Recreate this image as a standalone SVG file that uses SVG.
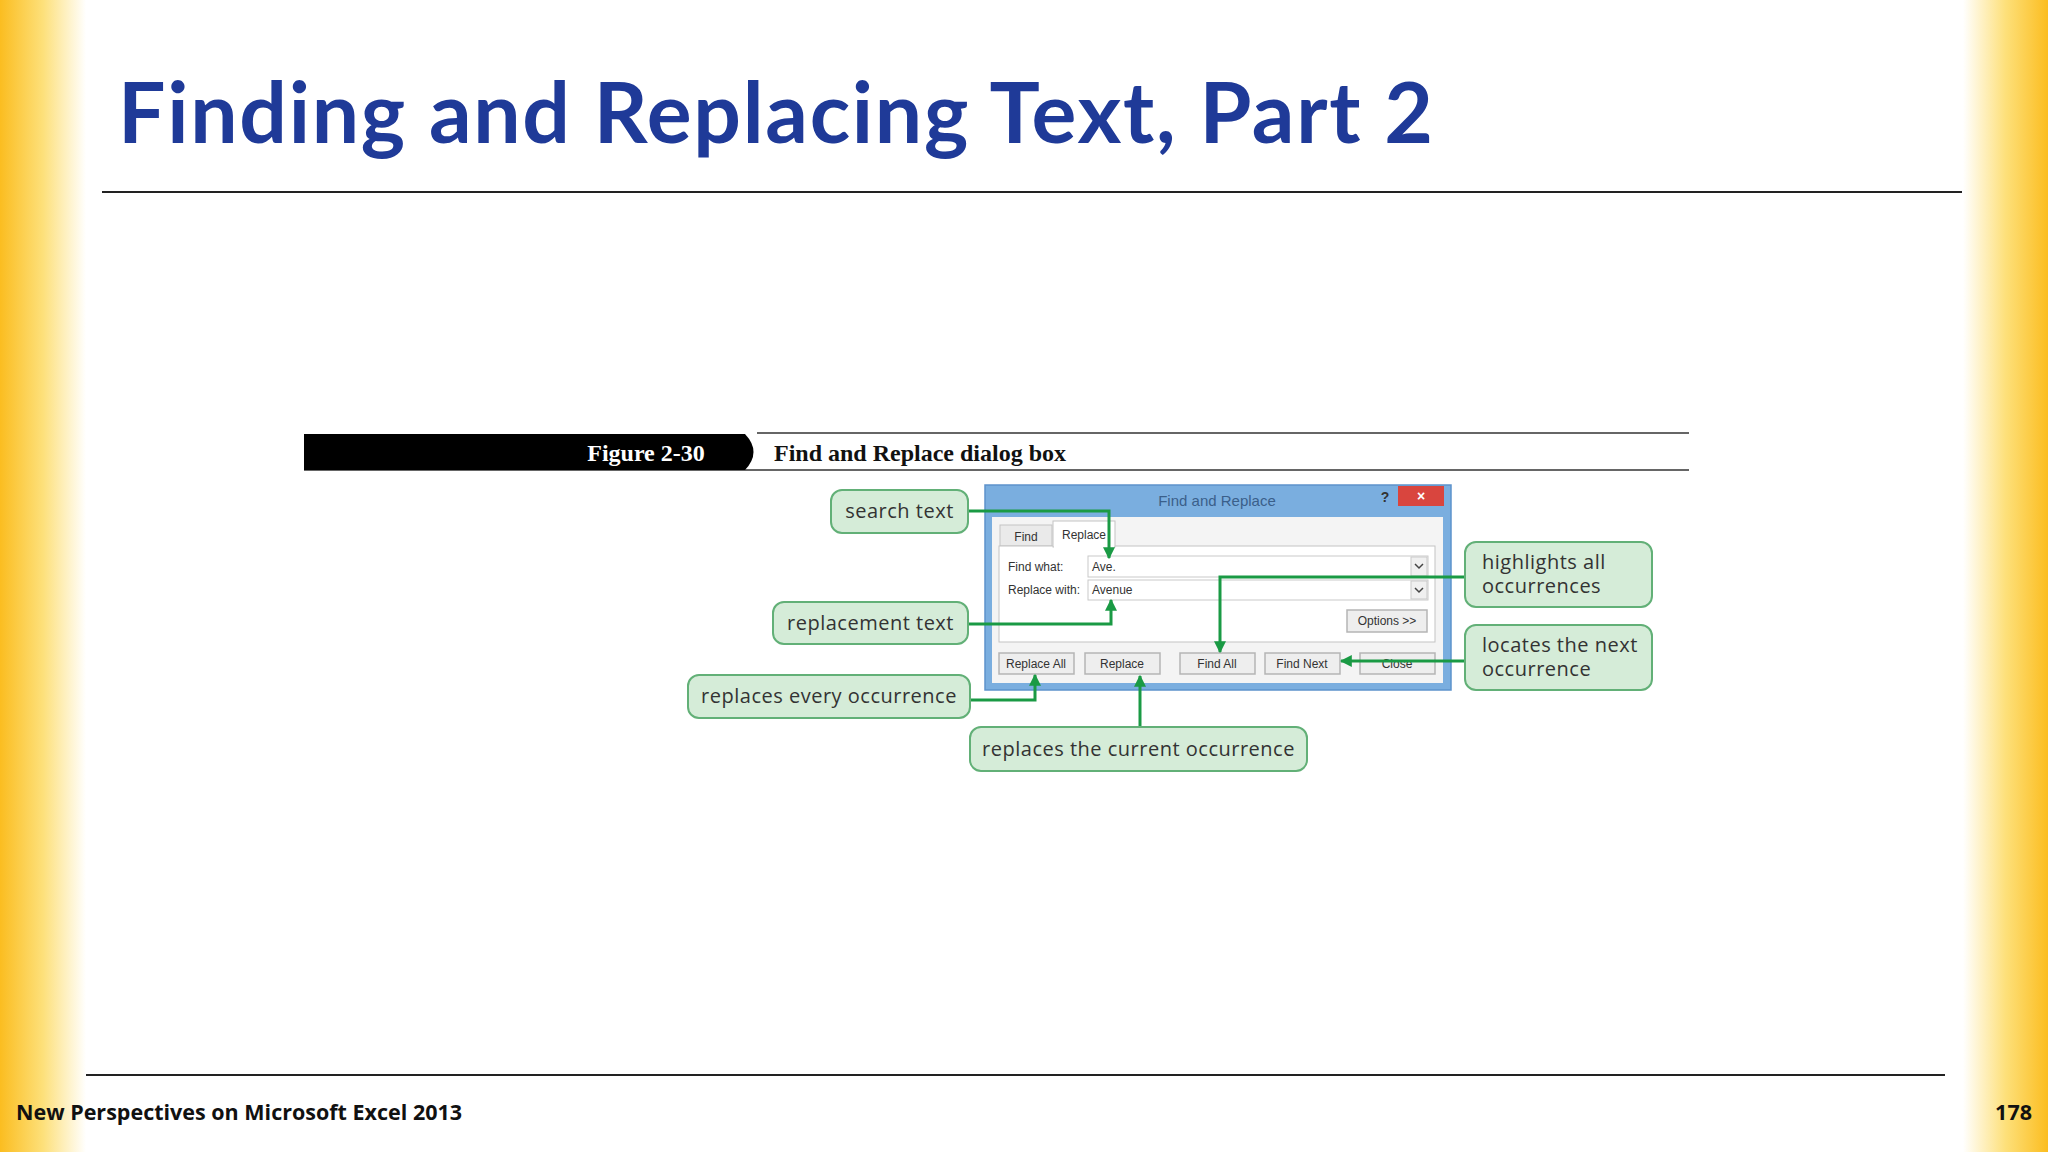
<svg xmlns="http://www.w3.org/2000/svg" width="2048" height="1152" viewBox="0 0 2048 1152">
<defs>
<linearGradient id="lg" x1="0" x2="1" y1="0" y2="0"><stop offset="0" stop-color="#fbbd20"/><stop offset="0.5" stop-color="#fde07a"/><stop offset="1" stop-color="#ffffff"/></linearGradient>
<linearGradient id="rg" x1="1" x2="0" y1="0" y2="0"><stop offset="0" stop-color="#fbbd20"/><stop offset="0.5" stop-color="#fde07a"/><stop offset="1" stop-color="#ffffff"/></linearGradient>
<marker id="ah" viewBox="0 0 10 10" refX="9" refY="5" markerWidth="4" markerHeight="5" orient="auto" markerUnits="strokeWidth"><path d="M0,0 L10,5 L0,10 z" fill="#1a9a44"/></marker>
<style>
.cb{fill:#d5ecd8;stroke:#62b077;stroke-width:2}
.ct{font-family:"Open Sans","Liberation Sans",sans-serif;font-size:20px;fill:#333;text-anchor:middle;letter-spacing:0.5px}
.cn{fill:none;stroke:#1a9a44;stroke-width:3;marker-end:url(#ah)}
.btn{fill:#eeeeee;stroke:#b5b5b5;stroke-width:1.5}
.bt{font-family:"Liberation Sans",sans-serif;font-size:12px;fill:#333;text-anchor:middle}
.lb{font-family:"Liberation Sans",sans-serif;font-size:12px;fill:#333}
</style>
</defs>
<rect width="2048" height="1152" fill="#fff"/>
<rect x="0" y="0" width="86" height="1152" fill="url(#lg)"/>
<rect x="1963" y="0" width="85" height="1152" fill="url(#rg)"/>
<text x="118" y="143" font-family="Lato,'Open Sans',sans-serif" font-weight="bold" font-size="84" fill="#1f3a98" textLength="1315" lengthAdjust="spacing">Finding and Replacing Text, Part 2</text>
<line x1="102" y1="192" x2="1962" y2="192" stroke="#222" stroke-width="2"/>
<line x1="86" y1="1075" x2="1945" y2="1075" stroke="#222" stroke-width="2"/>
<text x="16" y="1120" font-family="'Open Sans','Liberation Sans',sans-serif" font-weight="bold" font-size="21.5" fill="#111">New Perspectives on Microsoft Excel 2013</text>
<text x="2032" y="1120" text-anchor="end" font-family="'Open Sans','Liberation Sans',sans-serif" font-weight="bold" font-size="21.5" fill="#111">178</text>
<g id="figure-header">
<line x1="757" y1="433" x2="1689" y2="433" stroke="#333" stroke-width="1.5"/>
<line x1="304" y1="470" x2="1689" y2="470" stroke="#333" stroke-width="1.5"/>
<path d="M304,434 L745,434 Q762,452 745,470 L304,470 z" fill="#000"/>
<text x="646" y="461" text-anchor="middle" font-family="'Liberation Serif',serif" font-weight="bold" font-size="24" fill="#fff">Figure 2-30</text>
<text x="774" y="461" font-family="'Liberation Serif',serif" font-weight="bold" font-size="24" fill="#111">Find and Replace dialog box</text>
</g>
<g id="dialog">
<rect x="985" y="485" width="466" height="205" fill="#7aaedf" stroke="#5d93cc" stroke-width="1.5"/>
<text x="1217" y="506" text-anchor="middle" font-family="'Liberation Sans',sans-serif" font-size="15" fill="#3a5f8a">Find and Replace</text>
<text x="1385" y="502" text-anchor="middle" font-family="'Liberation Sans',sans-serif" font-weight="bold" font-size="14" fill="#333">?</text>
<rect x="1398" y="486" width="46" height="20" fill="#d9453e"/>
<text x="1421" y="501" text-anchor="middle" font-family="'Liberation Sans',sans-serif" font-weight="bold" font-size="14" fill="#fff">×</text>
<rect x="992" y="517" width="451" height="166" fill="#f4f4f4"/>
<rect x="1000" y="525" width="52" height="21" fill="#eaeaea" stroke="#c3c3c3"/>
<text x="1026" y="541" class="bt">Find</text>
<rect x="999" y="546" width="436" height="96" fill="#fff" stroke="#c3c3c3"/>
<rect x="1053" y="521" width="62" height="26" fill="#fff" stroke="#c3c3c3"/>
<rect x="1054" y="544" width="60" height="4" fill="#fff"/>
<text x="1084" y="539" class="bt">Replace</text>
<text x="1008" y="571" class="lb">Find what:</text>
<text x="1008" y="594" class="lb">Replace with:</text>
<rect x="1088" y="556" width="340" height="21" fill="#fff" stroke="#c9c9c9"/>
<rect x="1088" y="580" width="340" height="20" fill="#fff" stroke="#c9c9c9"/>
<text x="1092" y="571" class="lb" font-size="11">Ave.</text>
<text x="1092" y="594" class="lb" font-size="11">Avenue</text>
<rect x="1411" y="557" width="16" height="19" fill="#f0f0f0" stroke="#c9c9c9"/>
<rect x="1411" y="581" width="16" height="18" fill="#f0f0f0" stroke="#c9c9c9"/>
<path d="M1415,564 l4,4 l4,-4 M1415,588 l4,4 l4,-4" fill="none" stroke="#444" stroke-width="1.5"/>
<rect x="1347" y="610" width="80" height="22" class="btn"/>
<text x="1387" y="625" class="bt">Options &gt;&gt;</text>
<rect x="999" y="653" width="75" height="21" class="btn"/>
<text x="1036" y="668" class="bt">Replace All</text>
<rect x="1085" y="653" width="75" height="21" class="btn"/>
<text x="1122" y="668" class="bt">Replace</text>
<rect x="1180" y="653" width="75" height="21" class="btn"/>
<text x="1217" y="668" class="bt">Find All</text>
<rect x="1265" y="653" width="75" height="21" class="btn" stroke="#7aa0cf"/>
<text x="1302" y="668" class="bt">Find Next</text>
<rect x="1360" y="653" width="75" height="21" class="btn"/>
<text x="1397" y="668" class="bt">Close</text>
</g>
<g id="connectors">
<path class="cn" d="M968,511 H1109 V558"/>
<path class="cn" d="M968,624 H1111 V600"/>
<path class="cn" d="M970,700 H1035 V675"/>
<path class="cn" d="M1140,727 V676"/>
<path class="cn" d="M1465,577 H1220 V652"/>
<path class="cn" d="M1465,661 H1341"/>
</g>
<g id="search-text"><rect class="cb" x="831" y="490" width="137" height="43" rx="11"/><text class="ct" x="899.5" y="518">search text</text></g>
<g id="replacement-text"><rect class="cb" x="773" y="602" width="195" height="42" rx="11"/><text class="ct" x="870.5" y="630">replacement text</text></g>
<g id="replaces-every"><rect class="cb" x="688" y="675" width="282" height="43" rx="11"/><text class="ct" x="829" y="703">replaces every occurrence</text></g>
<g id="replaces-current"><rect class="cb" x="970" y="727" width="337" height="44" rx="11"/><text class="ct" x="1138.5" y="756">replaces the current occurrence</text></g>
<g id="highlights-all"><rect class="cb" x="1465" y="542" width="187" height="65" rx="11"/><text class="ct" x="1482" y="569" style="text-anchor:start">highlights all</text><text class="ct" x="1482" y="593" style="text-anchor:start">occurrences</text></g>
<g id="locates-next"><rect class="cb" x="1465" y="625" width="187" height="65" rx="11"/><text class="ct" x="1482" y="652" style="text-anchor:start">locates the next</text><text class="ct" x="1482" y="676" style="text-anchor:start">occurrence</text></g>
</svg>
